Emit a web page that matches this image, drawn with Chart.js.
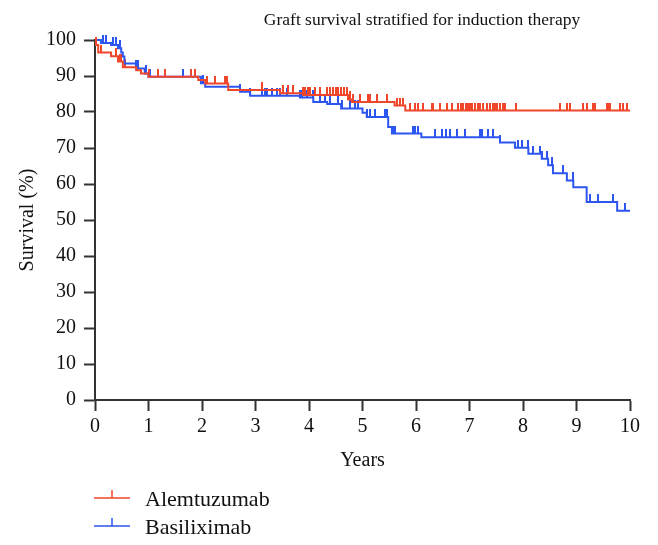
<!DOCTYPE html>
<html>
<head>
<meta charset="utf-8">
<script src="https://cdn.jsdelivr.net/npm/chart.js@4.4.1/dist/chart.umd.min.js"></script>
<style>
  html, body { margin: 0; padding: 0; background: #fff; }
  #wrap { width: 658px; height: 545px; position: relative; }
</style>
</head>
<body>
<div id="wrap"><canvas id="km"></canvas></div>
<script>
// Kaplan-Meier steps (years, survival %)
const alemTimes = [0, 0.02, 0.06, 0.3, 0.43, 0.52, 0.77, 0.86, 1.0, 1.93, 2.06, 2.49, 3.46, 3.89, 4.73, 4.8, 5.6, 5.8, 10];
const alemSurv  = [100, 98.6, 96.5, 95.5, 94, 92.4, 91.6, 90.7, 89.8, 88.9, 87.9, 86.1, 85.2, 84.7, 83.5, 82.8, 81.8, 80.4, 80.4];
const alemCensor = [0.02, 0.11, 0.39, 0.46, 0.49, 0.56, 1.0, 1.18, 1.31, 1.8, 1.87, 2.09, 2.24, 2.43, 2.47, 3.12, 3.51, 3.61, 3.7,
  3.89, 3.93, 3.98, 4.02, 4.11, 4.21, 4.34, 4.4, 4.45, 4.5, 4.55, 4.6, 4.65, 4.71, 4.77, 4.82, 4.95, 5.1, 5.14, 5.27, 5.46,
  5.64, 5.7, 5.76, 5.89, 5.98, 6.04, 6.13, 6.3, 6.32, 6.45, 6.58, 6.67, 6.79, 6.84, 6.88, 6.93, 6.97, 7.0, 7.05, 7.1, 7.15,
  7.2, 7.26, 7.33, 7.38, 7.44, 7.48, 7.51, 7.57, 7.63, 7.66, 7.87, 8.69, 8.82, 8.88, 9.12, 9.2, 9.31, 9.35, 9.57, 9.59,
  9.63, 9.81, 9.87, 9.94];

const basiTimes = [0, 0.11, 0.3, 0.43, 0.49, 0.52, 0.55, 0.77, 0.93, 1.0, 1.98, 2.06, 2.71, 2.9, 3.83, 4.08, 4.34, 4.6, 5.0,
  5.08, 5.48, 5.55, 6.1, 7.57, 7.85, 8.1, 8.35, 8.47, 8.56, 8.82, 8.94, 9.19, 9.76, 10];
const basiSurv  = [100, 99.2, 98.6, 97.7, 96.5, 95.4, 93.5, 92.1, 90.7, 89.8, 88, 87, 85.6, 84.5, 84.0, 82.8, 82.2, 81, 79.8,
  78.6, 75.8, 74, 73, 71.5, 70.1, 68.4, 67, 65.2, 63, 61, 59.1, 55, 52.6, 52.6];
const basiCensor = [0.15, 0.2, 0.34, 0.39, 0.46, 0.77, 0.8, 0.95, 1.03, 1.64, 2.02, 2.71, 2.9, 3.12, 3.18, 3.22, 3.3, 3.4,
  3.46, 3.59, 3.83, 3.87, 3.96, 4.07, 4.21, 4.3, 4.39, 4.54, 4.62, 4.77, 4.86, 4.92, 5.08, 5.14, 5.23, 5.42, 5.46, 5.57,
  5.61, 5.94, 5.98, 6.04, 6.36, 6.49, 6.56, 6.64, 6.77, 6.92, 7.2, 7.23, 7.35, 7.44, 7.57, 7.91, 7.98, 8.09, 8.19, 8.32,
  8.36, 8.45, 8.54, 8.75, 8.93, 9.25, 9.4, 9.68, 9.91];

const groupNames = ['Alemtuzumab', 'Basiliximab'];
const xTicks = [0, 1, 2, 3, 4, 5, 6, 7, 8, 9, 10];
const yTicks = [0, 10, 20, 30, 40, 50, 60, 70, 80, 90, 100];

const RED = '#f0472a';
const BLUE = '#2d55f0';
const FONT = '"Liberation Serif", "DejaVu Serif", serif';

// survival level of a step curve at time t
function levelAt(times, surv, t){
  let v = surv[0];
  for(let i=0;i<times.length;i++){ if(times[i] <= t + 1e-9) v = surv[i]; }
  return v;
}

// censor tick: short vertical stroke standing on the curve
function censorMark(color){
  const c = document.createElement('canvas');
  c.width = 2; c.height = 16;
  const g = c.getContext('2d');
  g.fillStyle = color;
  g.fillRect(0, 0, 2, 8);
  return c;
}

const stepSet = (label, times, surv, color) => ({
  type: 'line', label,
  data: times.map((t,i)=>({x:t, y:surv[i]})),
  borderColor: color, borderWidth: 2, stepped: true,
  pointRadius: 0, fill: false, clip: false
});
const censorSet = (label, times, surv, cens, color) => ({
  type: 'scatter', label: label + ' censored',
  data: cens.map(t=>({x:t, y:levelAt(times, surv, t)})),
  pointStyle: censorMark(color), clip: false
});

const extras = {
  id: 'extras',
  afterDraw(chart){
    const {ctx, chartArea: a} = chart;
    ctx.save();
    ctx.fillStyle = '#111';
    ctx.font = '17.5px ' + FONT;
    ctx.textAlign = 'center'; ctx.textBaseline = 'middle';
    ctx.fillText('Graft survival stratified for induction therapy', 422, 20);
    ctx.font = '20px ' + FONT;
    ctx.fillText('Years', (a.left + a.right)/2, 461);
    ctx.translate(28, (a.top + a.bottom)/2);
    ctx.rotate(-Math.PI/2);
    ctx.fillText('Survival (%)', 0, 0);
    ctx.restore();

    // legend (the source picture is cropped just below the second row)
    const colors = [RED, BLUE];
    ctx.save();
    ctx.beginPath(); ctx.rect(0, 0, chart.width, 537); ctx.clip();
    ctx.font = '22px ' + FONT;
    ctx.textBaseline = 'alphabetic';
    groupNames.forEach((n,i)=>{
      const y = 498 + i*28;
      ctx.strokeStyle = colors[i]; ctx.lineWidth = 1.5;
      ctx.beginPath(); ctx.moveTo(94, y); ctx.lineTo(130, y);
      ctx.moveTo(112, y); ctx.lineTo(112, y-8); ctx.stroke();
      ctx.fillStyle = '#111';
      ctx.fillText(n, 145, y + 8);
    });
    ctx.restore();
  }
};

new Chart(document.getElementById('km'), {
  data: {
    datasets: [
      stepSet(groupNames[0], alemTimes, alemSurv, RED),
      stepSet(groupNames[1], basiTimes, basiSurv, BLUE),
      censorSet(groupNames[0], alemTimes, alemSurv, alemCensor, RED),
      censorSet(groupNames[1], basiTimes, basiSurv, basiCensor, BLUE)
    ]
  },
  options: {
    responsive: true, maintainAspectRatio: false, animation: false,
    layout: { padding: { top: 40, right: 28, bottom: 105, left: 0 } },
    plugins: { legend: { display: false }, tooltip: { enabled: false } },
    scales: {
      x: {
        type: 'linear', min: 0, max: 10,
        afterFit: s => { s.height = 40; },
        afterBuildTicks: s => { s.ticks = xTicks.map(v=>({value:v})); },
        border: { color: '#333', width: 2 },
        grid: { drawOnChartArea: false, drawTicks: true, tickLength: 11, tickWidth: 2, tickColor: '#333' },
        ticks: { color: '#111', font: { family: FONT, size: 20 }, padding: 4, maxRotation: 0 }
      },
      y: {
        type: 'linear', min: 0, max: 100,
        afterFit: s => { s.width = 95; },
        afterBuildTicks: s => { s.ticks = yTicks.map(v=>({value:v})); },
        border: { color: '#333', width: 2 },
        grid: { drawOnChartArea: false, drawTicks: true, tickLength: 11, tickWidth: 2, tickColor: '#333' },
        ticks: { color: '#111', font: { family: FONT, size: 20 }, padding: 8 }
      }
    }
  },
  plugins: [extras]
});
</script>
</body>
</html>
